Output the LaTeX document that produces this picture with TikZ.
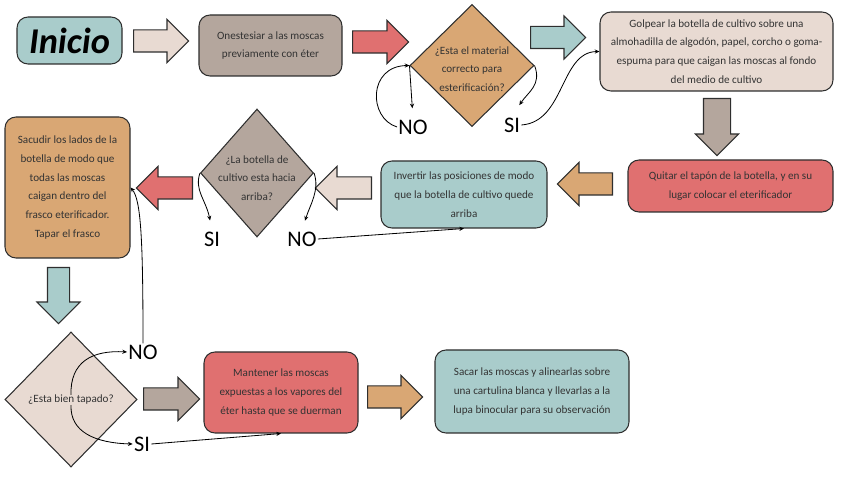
\documentclass[tikz,border=0pt]{standalone}
\usepackage{fontspec}
\setmainfont{Carlito}
\usetikzlibrary{arrows.meta,shapes.geometric,shapes.arrows}
\definecolor{fcTeal}{HTML}{A9CCCB}
\definecolor{fcBeige}{HTML}{E8DAD2}
\definecolor{fcTaupe}{HTML}{B4A69D}
\definecolor{fcRed}{HTML}{E07070}
\definecolor{fcTan}{HTML}{D9A774}
\definecolor{fcLine}{HTML}{2E2E2E}
\definecolor{fcText}{HTML}{333333}
\newcommand{\fcfont}{\fontsize{9.5}{16}\selectfont}
\tikzset{
  fc box/.style={rectangle, rounded corners=3.3mm, draw=fcLine, line width=0.9pt, align=center, font=\fcfont, text=fcText, inner sep=0pt},
  fc size/.style 2 args={minimum width=#1*0.3mm, minimum height=#2*0.3mm},
  fc diamond/.style={diamond, draw=fcLine, line width=0.9pt, inner sep=0pt},
  fc dtext/.style={align=center, font=\fcfont, text=fcText, inner sep=0pt},
  fc arrow/.style={single arrow, draw=fcLine, line width=0.9pt, inner xsep=0pt, inner ysep=3.15mm, single arrow head extend=3.15mm, minimum height=16.8mm, anchor=tail},
  fc yn/.style={font=\fontsize{19}{19}\selectfont, text=black, inner sep=1pt},
  fc link/.style={draw=black, line width=0.7pt, -{Stealth[length=4pt, width=3.5pt]}},
}

\begin{document}
\begin{tikzpicture}[x=0.3mm, y=-0.3mm]
  \useasboundingbox (0,0) rectangle (848,477);

  % Upper row: start, anaesthesia, material check, tapping
  \node[fc box, fc size={105}{47}, fill=fcTeal] (inicio) at (69.5,40.5) {\fontsize{31}{31}\selectfont\bfseries\itshape\color{black}Inicio};
  \node[fc arrow, fill=fcBeige, minimum height=16.5mm] (a1) at (133,41) {};
  \node[fc box, fc size={143}{61}, fill=fcTaupe] (onest) at (270.5,45.5) {Onestesiar a las moscas\\previamente con éter};
  \node[fc arrow, fill=fcRed] (a2) at (352,42) {};
  \node[fc diamond, fc size={124}{122}, fill=fcTan] (mat) at (472,65.5) {};
  \node[fc dtext] (mattxt) at (472,69) {¿Esta el material\\correcto para\\esterificación?};
  \node[fc yn] (no1) at (413,127) {NO};
  \node[fc yn] (si1) at (512,125) {SI};
  \node[fc arrow, fill=fcTeal, minimum height=16.5mm] (a3) at (530,37.5) {};
  \node[fc box, fc size={233}{79}, fill=fcBeige] (golpe) at (716.5,51.5) {Golpear la botella de cultivo sobre una\\almohadilla de algodón, papel, corcho o goma-\\espuma para que caigan las moscas al fondo\\del medio de cultivo};

  % Middle row, right to left
  \node[fc arrow, fill=fcTaupe, rotate=-90, inner ysep=3.9mm, single arrow head extend=2.4mm, minimum height=17.1mm] (a4) at (717,98) {};
  \node[fc box, fc size={205}{52}, fill=fcRed] (quitar) at (730.5,186) {Quitar el tapón de la botella, y en su\\lugar colocar el eterificador};
  \node[fc arrow, fill=fcTan, rotate=180, minimum height=16.5mm] (a5) at (613,184) {};
  \node[fc box, fc size={166}{67}, fill=fcTeal] (invert) at (464,194.5) {Invertir las posiciones de modo\\que la botella de cultivo quede\\arriba};
  \node[fc arrow, fill=fcBeige, rotate=180] (a6) at (372,188) {};
  \node[fc diamond, fc size={113}{128}, fill=fcTaupe] (arriba) at (257,173) {};
  \node[fc dtext] (arribatxt) at (257,178) {¿La botella de\\cultivo esta hacia\\arriba?};
  \node[fc yn] (si2) at (212,239) {SI};
  \node[fc yn] (no2) at (302,239) {NO};
  \node[fc arrow, fill=fcRed, rotate=180] (a7) at (193,188) {};
  \node[fc box, fc size={125}{141}, fill=fcTan] (sacud) at (67.5,187.5) {Sacudir los lados de la\\botella de modo que\\todas las moscas\\caigan dentro del\\frasco eterificador.\\Tapar el frasco};

  % Lower row
  \node[fc arrow, fill=fcTeal, rotate=-90] (a8) at (58.5,267) {};
  \node[fc diamond, fc size={132}{135}, fill=fcBeige] (tapado) at (71,399.5) {};
  \node[fc dtext] (tapadotxt) at (71,400) {¿Esta bien tapado?};
  \node[fc yn] (no3) at (143,352) {NO};
  \node[fc yn] (si3) at (142,444) {SI};
  \node[fc arrow, fill=fcTaupe] (a9) at (143,399) {};
  \node[fc box, fc size={154}{81}, fill=fcRed] (manten) at (281,392.5) {Mantener las moscas\\expuestas a los vapores del\\éter hasta que se duerman};
  \node[fc arrow, fill=fcTan, minimum height=16.5mm] (a10) at (367,397) {};
  \node[fc box, fc size={194}{83}, fill=fcTeal] (sacar) at (532,391.5) {Sacar las moscas y alinearlas sobre\\una cartulina blanca y llevarlas a la\\lupa binocular para su observación};

  % Thin connectors
  \draw[fc link, shorten >=3mm] (mat.west) -- (no1.north);
  \draw[fc link] (no1.west) .. controls (368,118) and (368,66) .. (mat.west);
  \draw[fc link, shorten >=4mm] (mat.east) .. controls (542,85) and (528,92) .. (si1.north);
  \draw[fc link] (si1.east) .. controls (565,122) and (560,52) .. (golpe.west);
  \draw[fc link, shorten >=3mm] (arriba.west) .. controls (194,190) and (206,200) .. (si2.north);
  \draw[fc link, shorten >=3mm] (arriba.east) .. controls (320,190) and (310,205) .. (no2.north);
  \draw[fc link] (no2.east) -- (invert.south);
  \draw[fc link] (tapadotxt.north) .. controls (70,362) and (92,350) .. (no3.west);
  \draw[fc link] (tapadotxt.south) .. controls (70,432) and (95,443) .. (si3.west);
  \draw[fc link] (si3.east) -- (manten.south);
  \draw[fc link] (no3.north) .. controls (143,240) and (141,200) .. (sacud.east);
\end{tikzpicture}
\end{document}
